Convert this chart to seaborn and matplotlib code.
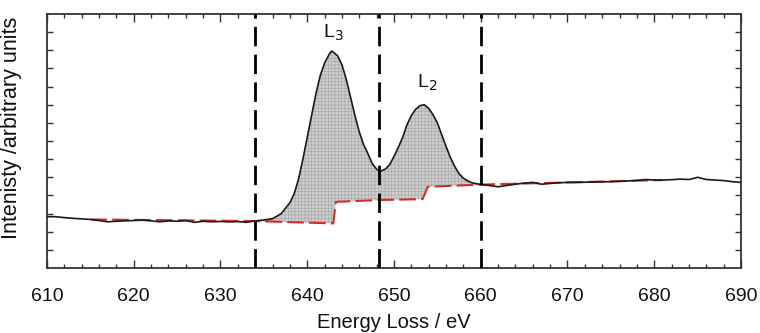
import numpy as np
import matplotlib
matplotlib.use("Agg")
import matplotlib.pyplot as plt
import seaborn as sns

# spectrum (energy in eV, intensity in arbitrary units)
energy = [610, 611, 612, 613, 614, 615, 616, 617, 618, 619, 620, 621, 622, 623, 624,
          625, 626, 627, 628, 629, 630, 631, 632, 633, 634, 635, 636, 637, 638, 638.5,
          639, 639.5, 640, 640.5, 641, 641.5, 642, 642.5, 642.8, 643, 643.5, 644, 644.5,
          645, 645.5, 646, 646.5, 647, 647.5, 648, 648.3, 648.5, 649, 649.5, 650, 650.5,
          651, 651.5, 652, 652.5, 653, 653.5, 654, 654.5, 655, 655.5, 656, 656.5, 657,
          657.5, 658, 658.5, 659, 660, 661, 662, 663, 664, 665, 666, 667, 668, 669, 670,
          671, 672, 673, 674, 675, 676, 677, 678, 679, 680, 681, 682, 683, 684, 685, 686,
          687, 688, 689, 690]
intensity = [2.83, 2.83, 2.78, 2.74, 2.71, 2.68, 2.62, 2.55, 2.58, 2.60, 2.62, 2.64, 2.60, 2.55, 2.60,
             2.58, 2.62, 2.52, 2.58, 2.55, 2.57, 2.54, 2.56, 2.52, 2.60, 2.65, 2.72, 3.00, 3.60, 4.10,
             4.90, 6.00, 7.20, 8.40, 9.60, 10.60, 11.30, 11.75, 11.96, 11.90, 11.70, 11.20, 10.40,
             9.40, 8.40, 7.50, 6.80, 6.30, 5.75, 5.45, 5.33, 5.35, 5.45, 5.70, 6.15, 6.65,
             7.20, 7.90, 8.40, 8.75, 8.95, 9.00, 8.80, 8.45, 8.00, 7.35, 6.70, 6.10, 5.60,
             5.20, 4.95, 4.80, 4.70, 4.60, 4.55, 4.48, 4.55, 4.62, 4.68, 4.72, 4.62, 4.66, 4.70, 4.72,
             4.72, 4.73, 4.74, 4.75, 4.76, 4.78, 4.80, 4.83, 4.88, 4.85, 4.85, 4.87, 4.90, 4.88, 5.00, 4.88,
             4.85, 4.82, 4.76, 4.72]

# step-shaped background under the L3/L2 edges
bg_energy = [615, 634, 643.0, 643.3, 648.5, 653.3, 653.9, 660, 681]
bg_intensity = [2.68, 2.59, 2.46, 3.65, 3.75, 3.80, 4.48, 4.60, 4.85]

edge_lines = [634, 648.3, 660]
peak_labels = ["L$_3$", "L$_2$"]
peak_pos = [(643.0, 12.95), (653.8, 10.2)]

sns.set_style("ticks")
plt.rcParams["font.family"] = ["Liberation Sans", "DejaVu Sans"]
plt.rcParams["hatch.linewidth"] = 0.4

fig = plt.figure(figsize=(7.6, 3.33), dpi=100)
ax = fig.add_axes([0.0618, 0.195, 0.9132, 0.763])

# shaded area between spectrum and background inside the edge window
e = np.array(energy)
y = np.array(intensity)
m = (e >= 634) & (e <= 660)
poly_x = np.concatenate([e[m], bg_energy[::-1][1:8]])
poly_y = np.concatenate([y[m], bg_intensity[::-1][1:8]])
ax.fill(poly_x, poly_y, facecolor="#cdcdcd", edgecolor="#a5a5a5", hatch="+++++",
        linewidth=0, zorder=1)

sns.lineplot(x=bg_energy, y=bg_intensity, color="#d42a2a", lw=1.5,
             linestyle=(0, (8, 2.5)), ax=ax, zorder=2)
sns.lineplot(x=energy, y=intensity, color="#1a1a1a", lw=1.2, ax=ax, zorder=3)

for xv in edge_lines:
    ax.axvline(xv, color="black", lw=2, linestyle=(0, (7, 3)), zorder=4)

for lab, (px, py) in zip(peak_labels, peak_pos):
    ax.text(px, py, lab, ha="center", va="center", fontsize=14, color="#111111")

ax.set_xlim(610, 690)
ax.set_ylim(0, 14)
ax.set_xticks(range(610, 691, 10))
ax.set_xticks(range(610, 691, 2), minor=True)
ax.set_yticks(range(1, 14))
ax.set_yticklabels([])
ax.tick_params(axis="both", which="both", direction="in", top=True, right=True,
               width=1, color="#333333")
ax.tick_params(axis="x", which="major", length=6, labelsize=14, pad=14,
               labelcolor="#111111")
ax.tick_params(axis="x", which="minor", length=3)
ax.tick_params(axis="y", which="major", length=4)
for s in ax.spines.values():
    s.set_linewidth(1.3)
    s.set_color("#333333")

ax.set_xlabel("Energy Loss / eV", fontsize=14.5, labelpad=6, color="#111111")
ax.set_ylabel("Intenisty /arbitrary units", fontsize=15.5, color="#111111")
ax.yaxis.set_label_coords(-0.036, 0.55)

plt.savefig("out.png", dpi=100)
